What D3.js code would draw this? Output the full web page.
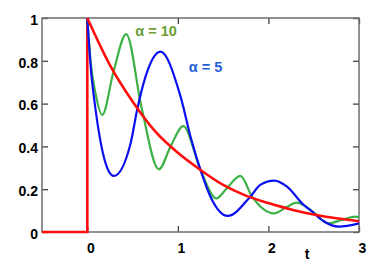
<!DOCTYPE html>
<html>
<head>
<meta charset="utf-8">
<script src="https://cdn.jsdelivr.net/npm/d3@7"></script>
<style>
  body { margin: 0; background: #fff; }
  #plot text { font-family: "Liberation Sans", Arial, sans-serif; font-weight: bold; }
</style>
</head>
<body>
<div id="plot"></div>
<script>
// values
const xTicks = [0, 1, 2, 3];
const yTicks = [0, 0.2, 0.4, 0.6, 0.8, 1];

// red: step at t = 0 then decay
const tStep = [-0.5, 0, 0];
const vStep = [0, 0, 1];
const tRed = [0, 0.25, 0.5, 0.75, 1, 1.25, 1.5, 1.75, 2, 2.25, 2.5, 2.75, 3];
const vRed = [1, 0.78, 0.61, 0.47, 0.37, 0.29, 0.22, 0.17, 0.135, 0.105, 0.082, 0.064, 0.05];

// alpha = 5
const tBlue = [0, 0.04, 0.092, 0.139, 0.183, 0.23, 0.293, 0.478, 0.55, 0.643, 0.808, 1.02, 1.15, 1.25, 1.36, 1.55, 1.8, 1.91, 2.065, 2.205, 2.39, 2.46, 2.61, 2.775, 3];
const vBlue = [1, 0.76, 0.57, 0.44, 0.35, 0.29, 0.262, 0.414, 0.57, 0.726, 0.843, 0.648, 0.43, 0.29, 0.165, 0.075, 0.165, 0.22, 0.24, 0.212, 0.126, 0.103, 0.05, 0.025, 0.04];

// alpha = 10
const tGreen = [0, 0.036, 0.09, 0.165, 0.29, 0.43, 0.6, 0.79, 0.92, 1.06, 1.25, 1.425, 1.54, 1.69, 1.82, 2.06, 2.19, 2.315, 2.52, 2.66, 2.81, 2.96, 3];
const vGreen = [1, 0.80, 0.65, 0.547, 0.75, 0.925, 0.58, 0.293, 0.40, 0.495, 0.29, 0.157, 0.204, 0.262, 0.165, 0.087, 0.114, 0.137, 0.084, 0.04, 0.056, 0.072, 0.069];

const labels = [
  {text: "α = 10", t: 0.53, v: 0.916, color: "#6a9e36"},
  {text: "α = 5", t: 1.12, v: 0.749, color: "#1f5fd6"}
];

const width = 382, height = 273;
const margin = {top: 18, right: 23, bottom: 41, left: 42};

const svg = d3.select("#plot")
  .append("svg")
    .attr("width", width)
    .attr("height", height);

const x = d3.scaleLinear().domain([-0.5, 3]).range([margin.left, width - margin.right]);
const y = d3.scaleLinear().domain([0, 1]).range([height - margin.bottom, margin.top]);

// axes, ticks pointing inward
svg.append("g")
    .attr("transform", `translate(0,${y(0)})`)
    .call(d3.axisBottom(x).tickValues(xTicks).tickFormat(d3.format("d")).tickSizeInner(-6).tickSizeOuter(0).tickPadding(11))
    .call(g => g.select(".domain").remove())
    .call(g => g.selectAll("text").attr("dx", "3").attr("font-size", 14).attr("fill", "#000"));

svg.append("g")
    .attr("transform", `translate(0,${y(1)})`)
    .call(d3.axisTop(x).tickValues(xTicks).tickFormat("").tickSizeInner(-6).tickSizeOuter(0))
    .call(g => g.select(".domain").remove());

svg.append("g")
    .attr("transform", `translate(${x(-0.5)},0)`)
    .call(d3.axisLeft(y).tickValues(yTicks).tickFormat(d => d === 0 || d === 1 ? d3.format("d")(d) : d3.format(".1f")(d)).tickSizeInner(-6).tickSizeOuter(0).tickPadding(4))
    .call(g => g.select(".domain").remove())
    .call(g => g.selectAll("text").attr("dy", "0.45em").attr("font-size", 14).attr("fill", "#000"));

svg.append("g")
    .attr("transform", `translate(${x(3)},0)`)
    .call(d3.axisRight(y).tickValues(yTicks).tickFormat("").tickSizeInner(-6).tickSizeOuter(0))
    .call(g => g.select(".domain").remove());

svg.selectAll(".tick line").attr("stroke", "#444").attr("stroke-width", 1.3);

svg.append("rect")
    .attr("x", x(-0.5))
    .attr("y", y(1))
    .attr("width", x(3) - x(-0.5))
    .attr("height", y(0) - y(1))
    .attr("fill", "none")
    .attr("stroke", "#6e6e6e")
    .attr("stroke-width", 1.5);

svg.append("text")
    .attr("x", 307)
    .attr("y", 259)
    .attr("text-anchor", "middle")
    .attr("font-size", 14)
    .text("t");

// curves
const line = d3.line()
    .x(d => x(d[0]))
    .y(d => y(d[1]))
    .curve(d3.curveMonotoneX);

const series = [
  {t: tGreen, v: vGreen, color: "#3db046", w: 2.2},
  {t: tBlue, v: vBlue, color: "#0a0ff0", w: 2.2},
  {t: tRed, v: vRed, color: "#ff0d0d", w: 2.6}
];

svg.append("path")
    .datum(d3.zip(tStep, vStep))
    .attr("fill", "none")
    .attr("stroke", "#ff0d0d")
    .attr("stroke-width", 2.6)
    .attr("d", d3.line().x(d => x(d[0])).y(d => y(d[1])));

svg.selectAll(".curve")
  .data(series)
  .join("path")
    .attr("class", "curve")
    .attr("fill", "none")
    .attr("stroke", d => d.color)
    .attr("stroke-width", d => d.w)
    .attr("d", d => line(d3.zip(d.t, d.v)));

svg.selectAll(".lbl")
  .data(labels)
  .join("text")
    .attr("class", "lbl")
    .attr("x", d => x(d.t))
    .attr("y", d => y(d.v))
    .attr("font-size", 14.5)
    .attr("fill", d => d.color)
    .text(d => d.text);
</script>
</body>
</html>
